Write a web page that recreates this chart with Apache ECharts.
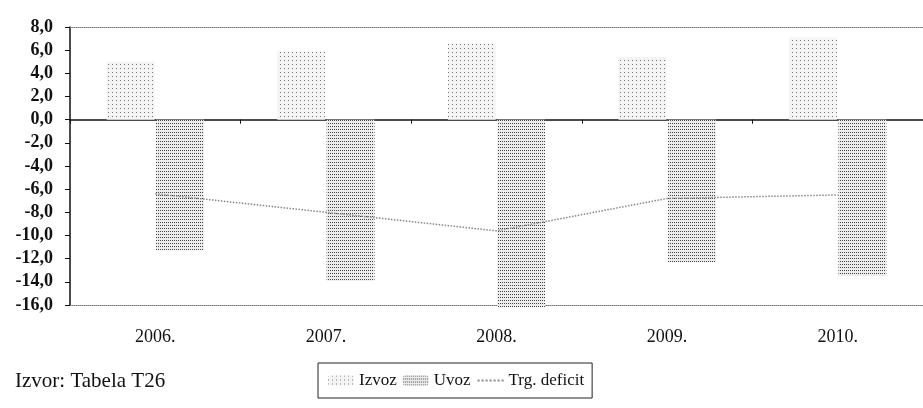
<!DOCTYPE html>
<html>
<head>
<meta charset="utf-8">
<script src="https://cdn.jsdelivr.net/npm/echarts@6/dist/echarts.min.js"></script>
<style>
html,body{margin:0;padding:0;background:#fff;}
#c{width:923px;height:408px;}
</style>
</head>
<body>
<div id="c"></div>
<script>
var categories = ['2006.', '2007.', '2008.', '2009.', '2010.'];
var izvoz = [5.0, 5.9, 6.6, 5.4, 7.1];
var uvoz = [-11.3, -13.9, -16.2, -12.3, -13.5];
var deficit = [-6.4, -8.0, -9.6, -6.8, -6.5];
var yTicks = {min: -16, max: 8, interval: 2};
var sourceText = 'Izvor: Tabela T26';

var serif = '"Liberation Serif", "DejaVu Serif", serif';
var chart = echarts.init(document.getElementById('c'), null, {renderer: 'canvas'});
chart.setOption({
  backgroundColor: '#fff',
  animation: false,
  title: {
    text: sourceText, left: 10, top: 366,
    textStyle: {fontFamily: serif, fontSize: 21, fontWeight: 'normal', color: '#111'}
  },
  legend: {
    left: 318, top: 363,
    padding: [9, 8, 9, 10],
    borderColor: '#222', borderWidth: 1,
    itemWidth: 26, itemHeight: 10, itemGap: 6,
    textStyle: {fontFamily: serif, fontSize: 17, color: '#111'},
    data: ['Izvoz', 'Uvoz', {name: 'Trg. deficit', itemStyle: {opacity: 0}}]
  },
  grid: {
    left: 70, top: 27, right: 0, bottom: 103
  },
  xAxis: [{
    type: 'category', data: categories,
    axisLine: {onZero: true, lineStyle: {color: '#111', width: 1.5}},
    axisTick: {show: true, length: 4, lineStyle: {color: '#111'}},
    axisLabel: {show: false}
  }, {
    type: 'category', data: categories, position: 'bottom',
    axisLine: {show: true, onZero: false, lineStyle: {color: '#777', width: 1, type: 'dotted'}},
    axisTick: {show: false},
    axisLabel: {margin: 23, fontFamily: serif, fontSize: 18, color: '#111'}
  }, {
    type: 'category', data: categories, position: 'top',
    axisLine: {show: true, onZero: false, lineStyle: {color: '#777', width: 1, type: 'dotted'}},
    axisTick: {show: false},
    axisLabel: {show: false}
  }],
  yAxis: {
    type: 'value', min: yTicks.min, max: yTicks.max, interval: yTicks.interval,
    axisLine: {show: true, onZero: false, lineStyle: {color: '#111', width: 1.5}},
    axisTick: {show: true, length: 5, lineStyle: {color: '#111'}},
    splitLine: {show: false},
    axisLabel: {
      margin: 17, fontFamily: serif, fontSize: 18, fontWeight: 'bold', color: '#111',
      formatter: function (v) { return v.toFixed(1).replace('.', ','); }
    }
  },
  series: [{
    name: 'Izvoz', type: 'bar', data: izvoz, barGap: '3%', barCategoryGap: '43%',
    clip: false,
    itemStyle: {
      color: '#f4f4f4',
      decal: {symbol: 'rect', symbolSize: 1, color: '#777', dashArrayX: [1, 3], dashArrayY: [1, 3], rotation: 0}
    }
  }, {
    name: 'Uvoz', type: 'bar', data: uvoz, clip: false,
    itemStyle: {
      color: '#ececec',
      decal: {symbol: 'rect', symbolSize: 1, color: '#444', dashArrayX: [1, 1], dashArrayY: [1, 2], rotation: 0}
    }
  }, {
    name: 'Trg. deficit', type: 'line', data: deficit,
    symbol: 'none', z: 5,
    lineStyle: {color: '#888', width: 1.5, type: 'dotted'},
    itemStyle: {color: '#888'}
  }]
});
</script>
</body>
</html>
